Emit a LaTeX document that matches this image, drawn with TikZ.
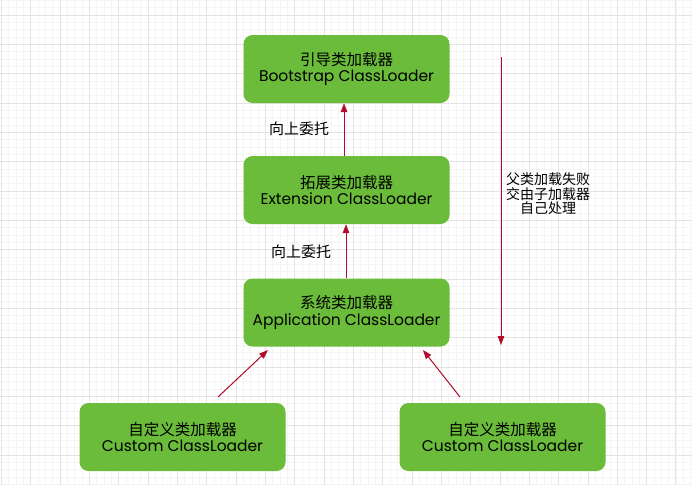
\documentclass[tikz,border=0pt]{standalone}
\usepackage{fontspec}
\setmainfont{Poppins}
\newfontfamily\cjk{Noto Sans CJK SC}
\usetikzlibrary{arrows.meta}
\definecolor{boxgreen}{RGB}{106,188,58}
\definecolor{arrred}{RGB}{178,12,44}
\definecolor{gridminor}{RGB}{244,244,244}
\definecolor{gridmajor}{RGB}{228,228,228}
\tikzset{
  loader/.style={draw=none, fill=boxgreen, rounded corners=9pt, minimum width=206pt, minimum height=68pt, inner sep=0pt, align=center, font=\fontsize{15.5}{16.5}\selectfont},
  uparrow/.style={draw=arrred, line width=1pt, -{Triangle[length=9pt,width=6.5pt]}},
  lbl/.style={font=\cjk\fontsize{15}{17}\selectfont, inner sep=0pt},
}
\newcommand{\twolines}[2]{{\cjk #1}\\#2}
\begin{document}
\begin{tikzpicture}[x=1pt,y=-1pt]
\useasboundingbox (0,0) rectangle (692,485);
\fill[white] (0,0) rectangle (692,485);
% grid
\foreach \i in {0,...,95} {
  \draw[gridminor, line width=0.5pt] ({1.4+\i*7.33},0) -- ({1.4+\i*7.33},485);
}
\foreach \i in {0,...,66} {
  \draw[gridminor, line width=0.5pt] (0,{0.3+\i*7.33}) -- (692,{0.3+\i*7.33});
}
\foreach \i in {0,...,23} {
  \draw[gridmajor, line width=0.6pt] ({1.4+\i*29.32},0) -- ({1.4+\i*29.32},485);
}
\foreach \i in {0,...,16} {
  \draw[gridmajor, line width=0.6pt] (0,{15+\i*29.32-29.32}) -- (692,{15+\i*29.32-29.32});
}
% boxes
\node[loader] (boot) at (346.5,69) {\twolines{引导类加载器}{Bootstrap ClassLoader}};
\node[loader] (ext) at (346.5,190) {\twolines{拓展类加载器}{Extension ClassLoader}};
\node[loader] (app) at (346.5,312.5) {\twolines{系统类加载器}{Application ClassLoader}};
\node[loader] (c1) at (182.5,437) {\twolines{自定义类加载器}{Custom ClassLoader}};
\node[loader] (c2) at (502.5,437) {\twolines{自定义类加载器}{Custom ClassLoader}};
% arrows
\draw[uparrow] (ext.north -| 344,0) -- (boot.south -| 344,0);
\draw[uparrow] (app.north -| 346,0) -- (ext.south -| 346,0);
\coordinate (c1s) at (218,397);
\coordinate (c1e) at (268,350);
\coordinate (c2s) at (460,397);
\coordinate (c2e) at (423,350);
\draw[uparrow] (c1s) -- (c1e);
\draw[uparrow] (c2s) -- (c2e);
\coordinate (dtop) at (501,57);
\coordinate (dbot) at (501,345);
\draw[uparrow] (dtop) -- (dbot);
% labels
\node[lbl] (l1) at (299,129) {向上委托};
\node[lbl] (l2) at (301,252) {向上委托};
\node[font=\cjk\fontsize{14}{14.5}\selectfont, align=center, inner sep=0pt] (l3) at (548,194) {父类加载失败\\交由子加载器\\自己处理};
\end{tikzpicture}
\end{document}
